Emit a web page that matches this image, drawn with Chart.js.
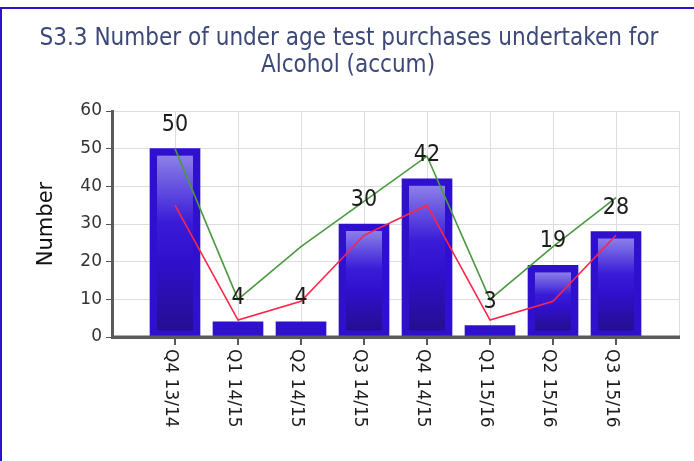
<!DOCTYPE html>
<html>
<head>
<meta charset="utf-8">
<script src="https://cdn.jsdelivr.net/npm/chart.js"></script>
<style>
  html, body { margin: 0; padding: 0; background: #fff; }
</style>
</head>
<body>
<canvas id="myChart" width="694" height="461"></canvas>
<script>
const titleLines = ['S3.3 Number of under age test purchases undertaken for', 'Alcohol (accum)'];
const quarters = ['Q4 13/14', 'Q1 14/15', 'Q2 14/15', 'Q3 14/15', 'Q4 14/15', 'Q1 15/16', 'Q2 15/16', 'Q3 15/16'];
const purchases = [50, 4, 4, 30, 42, 3, 19, 28];
const greenLine = [50, 10, 24, 36, 48, 10, 24, 37];
const redLine = [35, 4.5, 9.5, 27, 35, 4.5, 9.5, 27];
const yMin = 0, yMax = 60, yStep = 10;

const ctx = document.getElementById('myChart');

const toPoints = arr => arr.map((v, i) => ({ x: i, y: v }));

// white page, blue frame and the two line title
const framePlugin = {
  id: 'frame',
  beforeDraw(chart) {
    const c = chart.ctx;
    c.save();
    c.fillStyle = '#fff';
    c.fillRect(0, 0, chart.width, chart.height);
    c.fillStyle = '#2c12cc';
    c.fillRect(0, 7, chart.width, 2);
    c.fillRect(0, 7, 2, chart.height);
    c.fillStyle = '#3c4878';
    c.font = '24px "Liberation Sans Narrow", "DejaVu Sans Condensed", sans-serif';
    c.textAlign = 'center';
    c.textBaseline = 'alphabetic';
    c.fillText(titleLines[0], 349, 45);
    c.fillText(titleLines[1], 348, 72);
    c.restore();
  }
};

// lighter inner panel on the taller bars
const barShade = {
  id: 'barShade',
  afterDatasetDraw(chart, args) {
    if (args.index !== 0) return;
    const c = chart.ctx;
    args.meta.data.forEach(bar => {
      const p = bar.getProps(['x', 'y', 'base', 'width'], true);
      const h = p.base - p.y;
      if (h < 20) return;
      const top = p.y + 7, bottom = p.base - 6;
      const g = c.createLinearGradient(0, top, 0, bottom);
      g.addColorStop(0, '#8c80e8');
      g.addColorStop(0.38, '#3a1cd8');
      g.addColorStop(0.6, '#3010cc');
      g.addColorStop(1, '#250e90');
      c.save();
      c.fillStyle = g;
      c.fillRect(p.x - p.width / 2 + 7, top, p.width - 14, bottom - top);
      c.restore();
    });
  }
};

// value labels, axis line on top of bars, rotated quarter labels
const labelPlugin = {
  id: 'labels',
  afterDatasetsDraw(chart) {
    const c = chart.ctx;
    const area = chart.chartArea;
    const xs = chart.scales.x;
    c.save();
    c.strokeStyle = '#5a5a5a';
    c.lineWidth = 3;
    c.beginPath();
    c.moveTo(area.left - 1, area.bottom);
    c.lineTo(area.right + 1, area.bottom);
    c.stroke();

    c.fillStyle = '#1c1c1c';
    c.font = '23px "Liberation Sans Narrow", "DejaVu Sans Condensed", sans-serif';
    c.textAlign = 'center';
    c.textBaseline = 'middle';
    chart.getDatasetMeta(0).data.forEach((bar, i) => {
      c.fillText(String(purchases[i]), bar.x, bar.y - 24);
    });

    c.lineWidth = 2;
    c.font = '17px "DejaVu Sans", sans-serif';
    c.textAlign = 'left';
    quarters.forEach((q, i) => {
      const x = xs.getPixelForValue(i);
      c.beginPath();
      c.moveTo(x, area.bottom + 1);
      c.lineTo(x, area.bottom + 8);
      c.stroke();
      c.save();
      c.translate(x - 5, area.bottom + 12);
      c.rotate(Math.PI / 2);
      c.fillStyle = '#1c1c1c';
      c.fillText(q, 0, 0);
      c.restore();
    });
    c.restore();
  }
};

new Chart(ctx, {
  data: {
    datasets: [{
      type: 'bar',
      label: 'Purchases',
      data: toPoints(purchases),
      backgroundColor: '#3010cf',
      barThickness: 50,
      order: 3
    }, {
      type: 'line',
      label: 'Target',
      data: toPoints(greenLine),
      borderColor: '#4b9a40',
      borderWidth: 1.6,
      pointRadius: 0,
      order: 1
    }, {
      type: 'line',
      label: 'Average',
      data: toPoints(redLine),
      borderColor: '#ff2448',
      borderWidth: 1.6,
      pointRadius: 0,
      order: 2
    }]
  },
  options: {
    responsive: false,
    animation: false,
    layout: { padding: { top: 111, right: 15, bottom: 0, left: 0 } },
    plugins: {
      legend: { display: false },
      title: { display: false },
      tooltip: { enabled: false }
    },
    scales: {
      x: {
        type: 'linear',
        offset: false,
        min: -1,
        max: quarters.length,
        ticks: { stepSize: 1, display: false },
        grid: { color: '#dedede', drawTicks: false, offset: false },
        border: { color: '#5a5a5a', width: 3 },
        afterFit(s) { s.height = 124; }
      },
      y: {
        min: yMin,
        max: yMax,
        ticks: {
          stepSize: yStep,
          color: '#333',
          padding: 4,
          font: { family: 'DejaVu Sans', size: 17 }
        },
        grid: { color: '#dedede', tickColor: '#555', tickLength: 6 },
        border: { color: '#5a5a5a', width: 3 },
        title: {
          display: true,
          text: 'Number',
          color: '#111',
          font: { family: 'DejaVu Sans', size: 21 },
          padding: { top: 34, bottom: 0 }
        },
        afterFit(s) { s.width = 112; }
      }
    }
  },
  plugins: [framePlugin, barShade, labelPlugin]
});
</script>
</body>
</html>
